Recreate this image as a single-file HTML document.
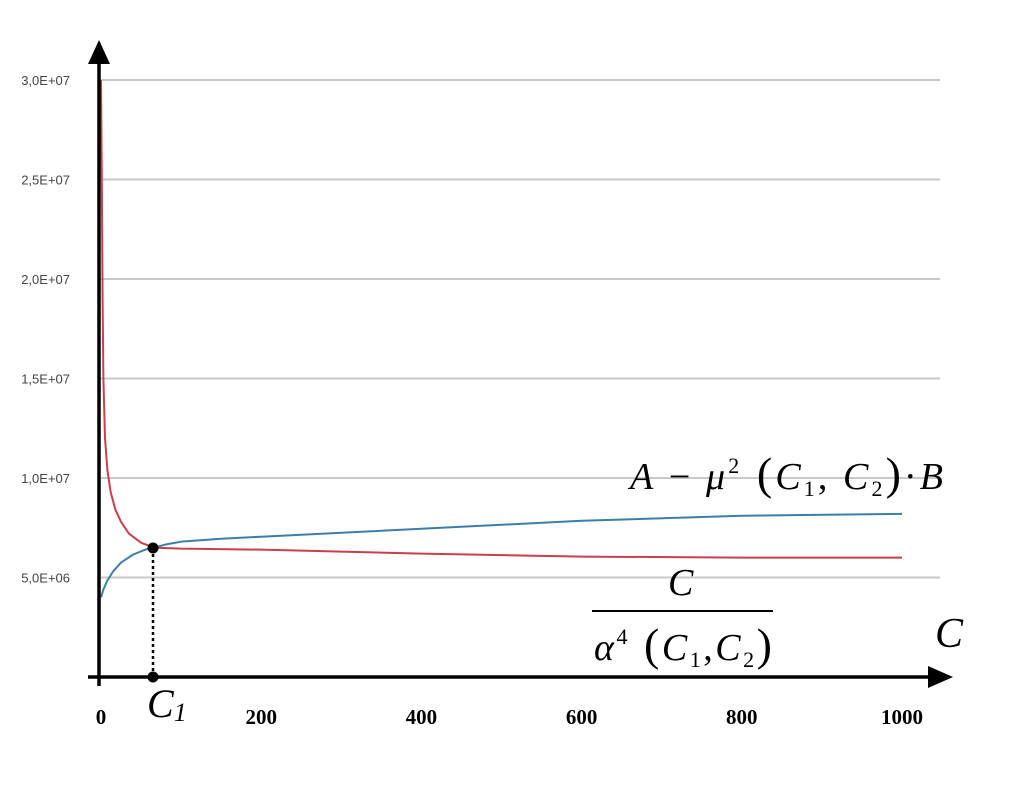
<!DOCTYPE html>
<html><head><meta charset="utf-8"><style>
body{margin:0;background:#fff}
svg{display:block}
.yl{font-family:"Liberation Sans",sans-serif;font-size:13px;fill:#444}
.xl{font-family:"Liberation Serif",serif;font-size:21px;font-weight:bold;fill:#000}
.m{font-family:"Liberation Serif",serif;font-style:italic;fill:#000}
.r{font-family:"Liberation Serif",serif;fill:#000}
</style></head><body>
<svg id="chart" width="1013" height="805" viewBox="0 0 1013 805">
<g id="grid"></g>
<g id="series"></g>
<g>
<line x1="88" y1="677" x2="935" y2="677" stroke="#000" stroke-width="3.5"/>
<polygon points="953,677 928,666 928,688" fill="#000"/>
<line x1="99" y1="686" x2="99" y2="60" stroke="#000" stroke-width="3.5"/>
<polygon points="99,40 88,64 110,64" fill="#000"/>
</g>
<g id="labels"></g>
<line x1="153" y1="548" x2="153" y2="677" stroke="#000" stroke-width="2.5" stroke-dasharray="3,3"/>
<circle cx="153" cy="548" r="5.5" fill="#000"/>
<circle cx="153" cy="677" r="5.5" fill="#000"/>
<text class="m" x="147" y="717" font-size="40">C<tspan font-size="26" dy="4">1</tspan></text>
<text class="m" x="935" y="647" font-size="42">C</text>
<text class="m" x="630" y="489" font-size="38" textLength="313" lengthAdjust="spacing">A<tspan class="r" font-style="normal"> − </tspan>μ<tspan font-size="22" dy="-16" font-style="normal">2</tspan><tspan font-style="normal" font-size="46" dy="16"> (</tspan>C<tspan font-size="22" dy="7" font-style="normal">1</tspan><tspan font-style="normal" dy="-7">, </tspan>C<tspan font-size="22" dy="7" font-style="normal">2</tspan><tspan font-style="normal" font-size="46" dy="-7">)</tspan><tspan font-style="normal">·</tspan>B</text>
<text class="m" x="668" y="595" font-size="38">C</text>
<line x1="592" y1="611" x2="773" y2="611" stroke="#000" stroke-width="2"/>
<text class="m" x="594" y="660" font-size="38" textLength="178" lengthAdjust="spacing">α<tspan font-size="22" dy="-16" font-style="normal">4</tspan><tspan font-style="normal" font-size="46" dy="16"> (</tspan>C<tspan font-size="22" dy="7" font-style="normal">1</tspan><tspan font-style="normal" dy="-7">,</tspan>C<tspan font-size="22" dy="7" font-style="normal">2</tspan><tspan font-style="normal" font-size="46" dy="-7">)</tspan></text>
</svg>
<script>
const yTicks=[5e6,1e7,1.5e7,2e7,2.5e7,3e7];
const yTickLabels=["5,0E+06","1,0E+07","1,5E+07","2,0E+07","2,5E+07","3,0E+07"];
const xTicks=[0,200,400,600,800,1000];
const xTickLabels=["0","200","400","600","800","1000"];
const blueX=[0,3,8,15,25,40,55,66,80,100,150,200,400,600,800,1000];
const blueY=[4.0e6,4.4e6,4.85e6,5.3e6,5.75e6,6.15e6,6.4e6,6.5e6,6.65e6,6.8e6,6.95e6,7.05e6,7.45e6,7.85e6,8.1e6,8.2e6];
const redX=[0,1,2,3,5,8,12,18,25,35,50,66,100,200,400,600,800,1000];
const redY=[3.0e7,2.5e7,1.9e7,1.5e7,1.2e7,1.04e7,9.3e6,8.4e6,7.8e6,7.2e6,6.75e6,6.5e6,6.45e6,6.4e6,6.2e6,6.05e6,6.0e6,6.0e6];
const NS="http://www.w3.org/2000/svg";
const sx=v=>101+v*0.801;
const sy=v=>677-v/3e7*597;
const grid=document.getElementById('grid'),labels=document.getElementById('labels'),series=document.getElementById('series');
yTicks.forEach((t,i)=>{
 const l=document.createElementNS(NS,'line');
 
 
 l.setAttribute('x1',100);l.setAttribute('x2',940);l.setAttribute('y1',sy(t));l.setAttribute('y2',sy(t));
 l.setAttribute('stroke','#c8c8c8');l.setAttribute('stroke-width','2');grid.appendChild(l);
 const tx=document.createElementNS(NS,'text');
 
 
 tx.setAttribute('class','yl');tx.setAttribute('x',70);tx.setAttribute('y',sy(t)+5);tx.setAttribute('text-anchor','end');
 tx.textContent=yTickLabels[i];labels.appendChild(tx);
});
xTicks.forEach((t,i)=>{
 const tx=document.createElementNS(NS,'text');
 
 
 tx.setAttribute('class','xl');tx.setAttribute('x',sx(t));tx.setAttribute('y',724);tx.setAttribute('text-anchor','middle');
 tx.textContent=xTickLabels[i];labels.appendChild(tx);
});
function line(xs,ys,color,name){
 const p=document.createElementNS(NS,'polyline');
 
 
 p.setAttribute('points',xs.map((x,i)=>sx(x)+','+sy(ys[i])).join(' '));
 p.setAttribute('fill','none');p.setAttribute('stroke',color);p.setAttribute('stroke-width','2');
 p.setAttribute('stroke-linejoin','round');series.appendChild(p);
}
line(blueX,blueY,'#3d7ea6','blue-series-line');
line(redX,redY,'#c8404c','red-series-line');
</script>
</body></html>
